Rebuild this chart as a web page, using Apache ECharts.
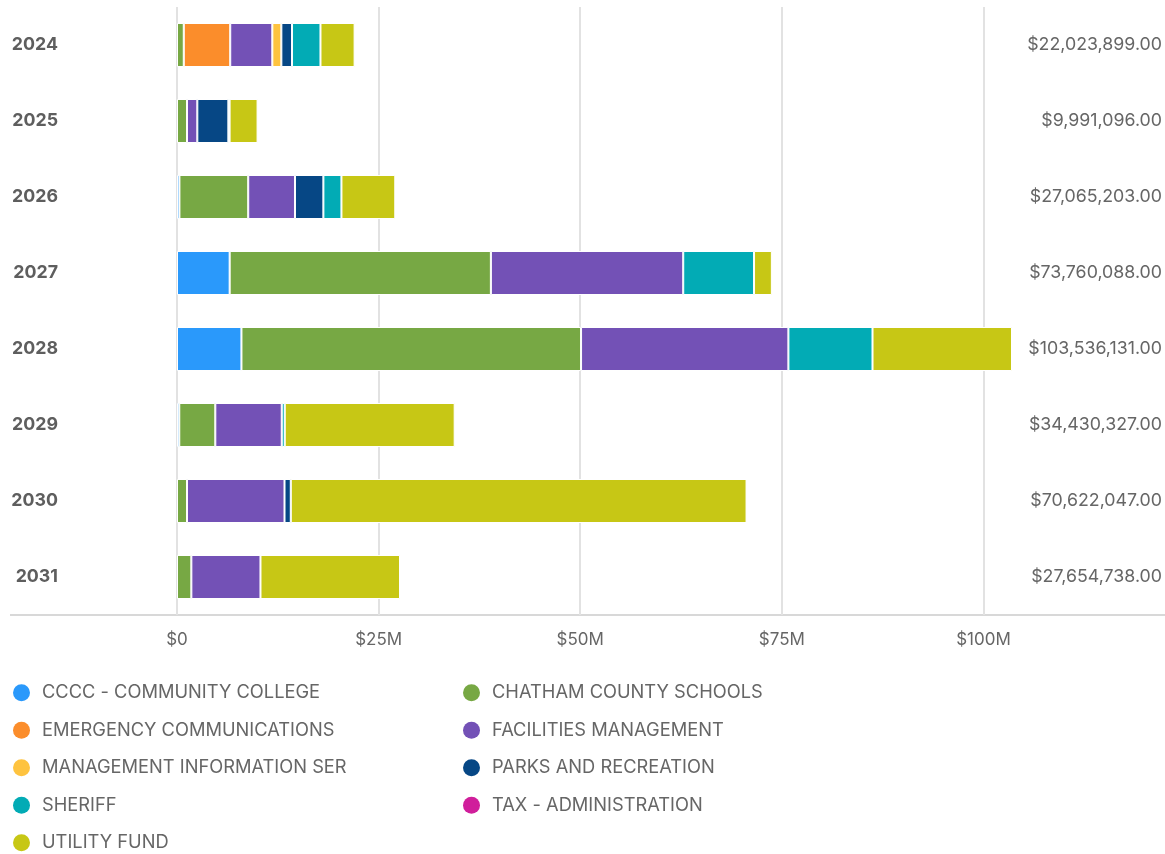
<!DOCTYPE html>
<html>
<head>
<meta charset="utf-8">
<script src="https://cdn.jsdelivr.net/npm/echarts@6/dist/echarts.min.js"></script>
<style>
  html, body { margin: 0; padding: 0; background: #fff; }
  #chart { width: 1165px; height: 854px; }
</style>
</head>
<body>
<div id="chart"></div>
<script>
// Fiscal years shown as rows
const years = ['2024', '2025', '2026', '2027', '2028', '2029', '2030', '2031'];

// Department names (stack and legend order)
const departments = [
  'CCCC - COMMUNITY COLLEGE',
  'CHATHAM COUNTY SCHOOLS',
  'EMERGENCY COMMUNICATIONS',
  'FACILITIES MANAGEMENT',
  'MANAGEMENT INFORMATION SER',
  'PARKS AND RECREATION',
  'SHERIFF',
  'TAX - ADMINISTRATION',
  'UTILITY FUND'
];

// Capital spending per department per year, in dollars
const cccc        = [null,     null,     300000,   6530000,  7990000,  280000,   null,     null];
const schools     = [840000,   1240000,  8530000,  32390000, 42110000, 4470000,  1240000,  1780000];
const emergency   = [5760000,  null,     null,     null,     null,     null,     null,     null];
const facilities  = [5220000,  1280000,  5800000,  23850000, 25710000, 8240000,  12090000, 8570000];
const mis         = [1120000,  null,     null,     null,     null,     null,     null,     null];
const parks       = [1320000,  3850000,  3520000,  null,     null,     null,     780000,   null];
const sheriff     = [3530000,  150000,   2240000,  8780000,  10430000, 370000,   null,     null];
const tax         = [null,     null,     null,     null,     null,     null,     null,     null];
const utility     = [4233899,  3471096,  6675203,  2210088,  17296131, 21070327, 56512047, 17304738];

// Yearly totals printed on the right
const totals = [22023899, 9991096, 27065203, 73760088, 103536131, 34430327, 70622047, 27654738];

// Value-axis tick labels
const xTickLabels = ['$0', '$25M', '$50M', '$75M', '$100M'];

const seriesValues = [cccc, schools, emergency, facilities, mis, parks, sheriff, tax, utility];
const colors = ['#2a99fb', '#77a844', '#fb8d2b', '#7351b6', '#fec33f', '#064785', '#02abb5', '#d01e9b', '#c7c715'];

function money(v) {
  const s = String(Math.round(v)).replace(/\B(?=(\d{3})+(?!\d))/g, ',');
  return '$' + s + '.00';
}

const FONT = 'Inter, "Noto Sans", sans-serif';
const TEXT = '#666666';

const chart = echarts.init(document.getElementById('chart'), null, { renderer: 'canvas' });

chart.setOption({
  animation: false,
  color: colors,
  textStyle: { fontFamily: FONT },
  grid: { left: 177, right: 153, top: 7, bottom: 239, containLabel: false },
  xAxis: {
    type: 'value',
    min: 0,
    max: 'dataMax',
    interval: 25000000,
    axisLine: { show: false },
    axisTick: { show: false },
    splitLine: {
      show: true,
      lineStyle: {
        color: ['#e2e2e2', '#e2e2e2', '#e2e2e2', '#e2e2e2', '#e2e2e2', 'rgba(0,0,0,0)'],
        width: 2
      }
    },
    axisLabel: {
      showMaxLabel: false,
      margin: 16,
      color: TEXT,
      fontSize: 17,
      fontFamily: FONT,
      formatter: function (v) {
        const i = Math.round(v / 25000000);
        return xTickLabels[i] !== undefined ? xTickLabels[i] : '';
      }
    }
  },
  yAxis: [
    {
      type: 'category',
      data: years,
      inverse: true,
      axisLine: { show: false },
      axisTick: { show: false },
      splitLine: { show: false },
      axisLabel: {
        margin: 119,
        color: '#5e5e5e',
        fontSize: 17.8,
        fontWeight: 'bold',
        fontFamily: FONT
      }
    },
    {
      type: 'category',
      position: 'right',
      data: totals.map(money),
      inverse: true,
      axisLine: { show: false },
      axisTick: { show: false },
      splitLine: { show: false },
      axisLabel: {
        margin: 150,
        align: 'right',
        color: TEXT,
        fontSize: 17.8,
        fontFamily: FONT
      }
    }
  ],
  legend: {
    left: 13,
    top: 679,
    padding: 0,
    width: 1000,
    orient: 'horizontal',
    icon: 'circle',
    itemWidth: 17,
    itemHeight: 17,
    itemGap: 10,
    itemStyle: { borderWidth: 0 },
    data: departments,
    textStyle: {
      color: TEXT,
      fontSize: 18.3,
      fontFamily: FONT,
      width: 411,
      lineHeight: 27.5,
      padding: [0, 0, 0, 7]
    }
  },
  graphic: [
    {
      type: 'line',
      shape: { x1: 10, y1: 615, x2: 1165, y2: 615 },
      style: { stroke: '#d8d8d8', lineWidth: 2 },
      z: 0
    }
  ],
  series: departments.map(function (name, i) {
    return {
      name: name,
      type: 'bar',
      stack: 'total',
      yAxisIndex: 0,
      barWidth: 44,
      data: seriesValues[i],
      itemStyle: { borderColor: '#ffffff', borderWidth: 1 },
      emphasis: { disabled: true }
    };
  })
});
</script>
</body>
</html>
